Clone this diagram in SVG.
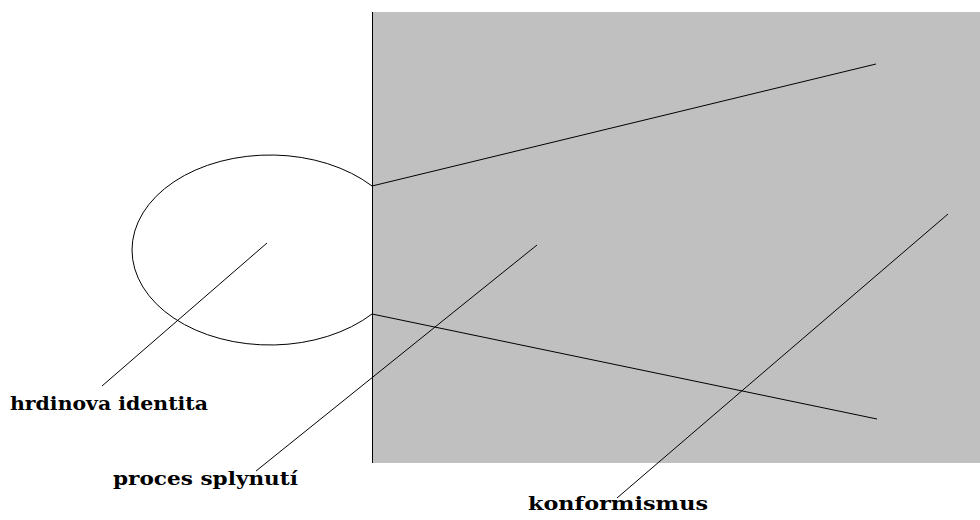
<svg xmlns="http://www.w3.org/2000/svg" width="980" height="520" viewBox="0 0 980 520">
<style>
.ln{stroke:#000;stroke-width:1;fill:none}
.lbl{font-family:'DejaVu Serif','Liberation Serif',serif;font-weight:700;font-size:18px;fill:#000}
</style>
<rect width="980" height="520" fill="#fff"/>
<g id="field">
<rect x="372" y="12" width="608" height="451" fill="#c0c0c0"/>
<line class="ln" x1="372.5" y1="12" x2="372.5" y2="463" stroke-width="1.5"/>
</g>
<g id="identity">
<path class="ln" d="M372,186 A138 95 0 1 0 372,314"/>
</g>
<g id="connectors">
<line class="ln" x1="372" y1="186" x2="876" y2="64"/>
<line class="ln" x1="372" y1="314" x2="877" y2="419"/>
<line class="ln" x1="267" y1="243" x2="102" y2="386"/>
<line class="ln" x1="537" y1="245" x2="256" y2="471"/>
<line class="ln" x1="948" y1="214" x2="617" y2="498"/>
</g>
<g id="label-hrdinova">
<text class="lbl" x="10" y="410" textLength="198" lengthAdjust="spacingAndGlyphs">hrdinova identita</text>
</g>
<g id="label-proces">
<text class="lbl" x="113" y="485" textLength="185" lengthAdjust="spacingAndGlyphs">proces splynutí</text>
</g>
<g id="label-konformismus">
<text class="lbl" x="528" y="510" textLength="180" lengthAdjust="spacingAndGlyphs">konformismus</text>
</g>
</svg>
